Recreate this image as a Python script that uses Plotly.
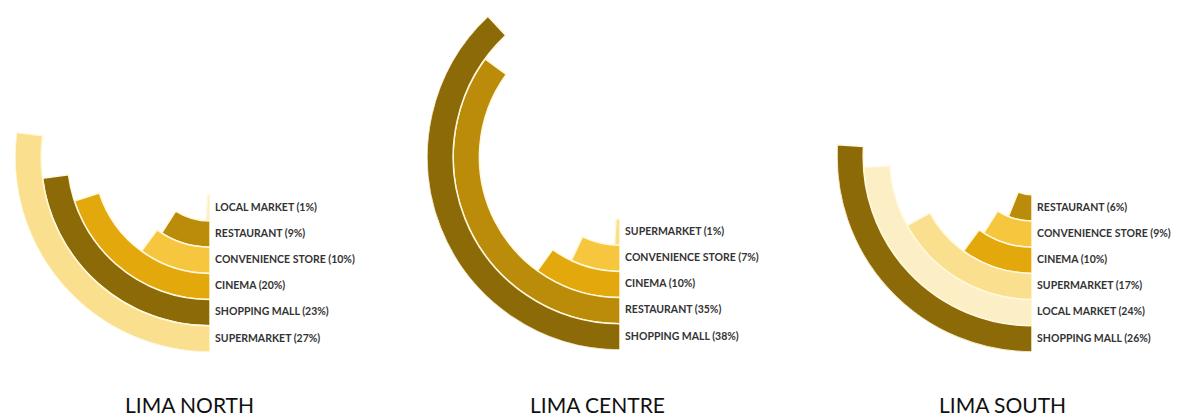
import math
import plotly.graph_objects as go

W, H = 1202, 419

# ---------------- data ----------------
north_cats = ["LOCAL MARKET", "RESTAURANT", "CONVENIENCE STORE", "CINEMA", "SHOPPING MALL", "SUPERMARKET"]
north_vals = [1, 9, 10, 20, 23, 27]

centre_cats = ["SUPERMARKET", "CONVENIENCE STORE", "CINEMA", "RESTAURANT", "SHOPPING MALL"]
centre_vals = [1, 7, 10, 35, 38]

south_cats = ["RESTAURANT", "CONVENIENCE STORE", "CINEMA", "SUPERMARKET", "LOCAL MARKET", "SHOPPING MALL"]
south_vals = [6, 9, 10, 17, 24, 26]

titles = ["LIMA NORTH", "LIMA CENTRE", "LIMA SOUTH"]

# ---------------- styles ----------------
COLORS = {
    "SUPERMARKET": "#FAE08E",
    "SHOPPING MALL": "#8C6A07",
    "CINEMA": "#E2A80C",
    "CONVENIENCE STORE": "#F5C63E",
    "RESTAURANT": "#BA8C0A",
    "LOCAL MARKET": "#FCEFC6",
}
SEP = "#FFF8DC"
RING_PX = 26.2       # ring thickness in pixels
SECTOR = [130, 270]

# geometry (pixel centre x, centre y, outer radius, title x)
geoms = [(210, 157, 195, 189), (620, 157, 193, 597), (1032, 157, 195, 1002)]

datasets = [(north_cats, north_vals), (centre_cats, centre_vals), (south_cats, south_vals)]

fig = go.Figure()
layout_polars = {}
annotations = []

top_frac = math.sin(math.radians(SECTOR[0]))

for k, ((cats, vals), (cx, cy, R, tx), title) in enumerate(zip(datasets, geoms, titles)):
    pname = "polar" if k == 0 else f"polar{k+1}"
    n = len(cats)
    r_max = R / RING_PX
    # innermost ring first; outer ring is last
    bases = [r_max - (n - i) for i in range(n)]
    fig.add_trace(go.Barpolar(
        r=[1] * n,
        base=bases,
        theta=[v * 3.6 / 2 for v in vals],
        width=[v * 3.6 for v in vals],
        marker=dict(color=[COLORS[c] for c in cats], line=dict(color=SEP, width=1.5)),
        subplot=pname,
        showlegend=False,
        hoverinfo="skip",
    ))
    fig.add_trace(go.Scatterpolar(
        r=[b + 0.5 for b in bases],
        theta=[0] * n,
        mode="text",
        text=[f"\u00a0\u00a0{c} ({v}%)" for c, v in zip(cats, vals)],
        textposition="middle right",
        textfont=dict(family="Lato", size=10.5, color="#333333", weight="bold"),
        cliponaxis=False,
        subplot=pname,
        showlegend=False,
        hoverinfo="skip",
    ))
    x0, x1 = cx - R, cx
    y_top, y_bot = cy - R * top_frac, cy + R
    layout_polars[pname] = dict(
        domain=dict(x=[x0 / W, x1 / W], y=[1 - y_bot / H, 1 - y_top / H]),
        sector=SECTOR,
        bgcolor="rgba(0,0,0,0)",
        angularaxis=dict(visible=False, direction="clockwise", rotation=270,
                         showgrid=False, showline=False, ticks=""),
        radialaxis=dict(visible=False, range=[0, r_max], showgrid=False,
                        showline=False, ticks=""),
        barmode="overlay",
    )
    annotations.append(dict(
        x=tx / W, y=1 - 404 / H, xref="paper", yref="paper",
        text=title, showarrow=False, xanchor="center", yanchor="middle",
        borderpad=0,
        font=dict(family="Lato", size=21, color="#111111"),
    ))

fig.update_layout(
    width=W, height=H,
    margin=dict(l=0, r=0, t=0, b=0),
    paper_bgcolor="white",
    plot_bgcolor="white",
    annotations=annotations,
    **layout_polars,
)

fig.write_html("out.html", config={"displayModeBar": False},
               post_script="document.body.style.margin='0';document.body.style.overflow='hidden';")
